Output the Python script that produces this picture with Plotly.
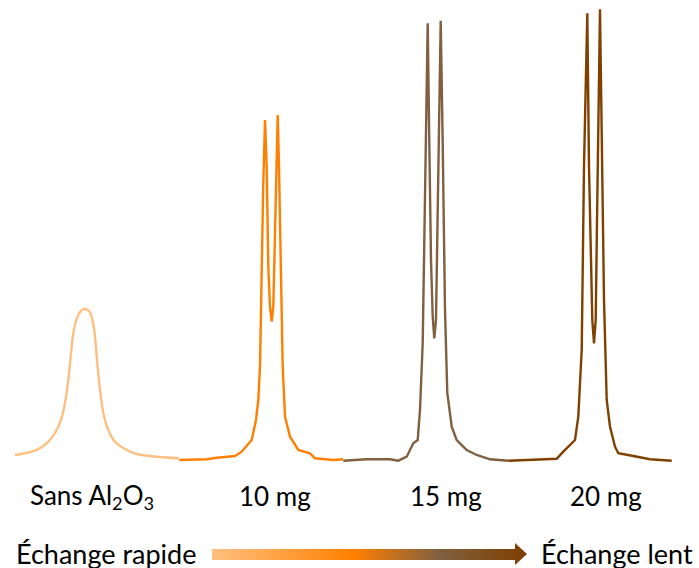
import plotly.graph_objects as go

# ---- data (x = horizontal position, intensity above baseline) ----
sans_x = [15, 25, 31.7, 40, 48.3, 55, 61, 65, 68.3, 70.7, 73.3, 76, 78, 80, 82.5, 85, 87.5, 90, 92, 93.5,
          95, 97.3, 100, 103.3, 108.3, 115, 125, 136.7, 156.7, 179]
sans_y = [5, 6.7, 8.3, 11.7, 18.3, 27, 40, 57, 80, 103.3, 127, 139, 144.5, 148, 150.5, 151, 150.3, 147.5, 142, 135,
          123.3, 97, 70, 47, 30, 18.3, 11, 6, 3.3, 1.7]

mg10_x = [179.3, 206.7, 216.7, 235, 241.7, 251.7, 256, 258.3, 260, 261.7, 263.3, 265, 266.7, 268.3, 270,
          271.7, 273.3, 275, 276.7, 277.7, 279, 280.7, 282.7, 285, 290, 298.3, 310, 315, 333.3, 343.3]
mg10_y = [0, 0.7, 2.3, 4, 8.3, 20, 40, 60, 93.3, 193.3, 277, 340, 293.3, 193.3, 153.3,
          138.3, 153.3, 227, 327, 345, 293.3, 193.3, 93.3, 43.3, 23.3, 10, 6.7, 1.7, 0, 0.7]

mg15_x = [343.3, 366.7, 390, 398.3, 406.7, 413.3, 417.7, 420, 422.7, 425, 427.7, 429.3, 431, 432.7,
          434.3, 436, 438.3, 440.7, 442.7, 445, 447.3, 451.7, 456.7, 466.7, 476.7, 490, 508.3]
mg15_y = [-0.7, 0.7, 0.7, -0.7, 3.3, 16.7, 20, 50, 117, 283.3, 436.7, 316.7, 200, 143.3,
          121.7, 140, 283.3, 439.3, 316.7, 150, 67, 33.3, 20, 10, 5, 0.7, -0.7]

mg20_x = [508.3, 556.7, 563.3, 570, 575, 578.3, 581.7, 584, 587.3, 589, 590.7, 592.3, 594, 595.7,
          597.3, 600, 601.7, 604, 606.7, 610, 615, 618.3, 633.3, 650, 671.7]
mg20_y = [-0.7, 1.3, 8.3, 15, 20, 43.3, 110, 293.3, 446.7, 293.3, 193.3, 140, 116.7, 140,
          260, 450.7, 326.7, 160, 60, 33.3, 13.3, 6.7, 4, 0.7, -0.7]

labels = ["Sans Al<sub>2</sub>O<sub>3</sub>", "10 mg", "15 mg", "20 mg"]
label_x = [91.5, 275, 446, 605.5]
colors = ["#FFBF80", "#FF8000", "#806040", "#804000"]
shapes = ["spline", "linear", "linear", "linear"]

fig = go.Figure()

series = [(sans_x, sans_y), (mg10_x, mg10_y), (mg15_x, mg15_y), (mg20_x, mg20_y)]
for (xs, ys), c, s in zip(series, colors, shapes):
    fig.add_trace(go.Scatter(x=xs, y=ys, mode="lines",
                             line=dict(color=c, width=2.4, shape=s, smoothing=0.8),
                             hoverinfo="skip", showlegend=False))

# gradient arrow
arrow_x = [212, 515, 515, 527, 515, 515, 212, 212]
arrow_y = [-89, -89, -83, -94, -105, -100, -100, -89]
fig.add_trace(go.Scatter(
    x=arrow_x, y=arrow_y, mode="lines", fill="toself",
    line=dict(width=0, color="rgba(0,0,0,0)"),
    fillgradient=dict(type="horizontal",
                      colorscale=[[0, "#FFC080"], [0.45, "#FF8000"], [0.72, "#806040"], [1, "#7F3F00"]]),
    hoverinfo="skip", showlegend=False))

font = dict(family="Lato, Carlito, Calibri, sans-serif", size=26, color="#000000")
for t, x in zip(labels, label_x):
    fig.add_annotation(x=x, y=-36, text=t, showarrow=False, xanchor="center", yanchor="middle", font=font)

font2 = dict(font, size=27)
fig.add_annotation(x=106, y=-93, text="Échange rapide", showarrow=False,
                   xanchor="center", yanchor="middle", font=font2)
fig.add_annotation(x=617, y=-93, text="Échange lent", showarrow=False,
                   xanchor="center", yanchor="middle", font=font2)

fig.update_layout(
    width=699, height=568,
    margin=dict(l=0, r=0, t=0, b=0),
    paper_bgcolor="white", plot_bgcolor="white",
    xaxis=dict(range=[0, 699], visible=False, fixedrange=True),
    yaxis=dict(range=[-108, 460], visible=False, fixedrange=True),
)

fig.write_html("out.html", config={"displayModeBar": False},
               post_script="document.body.style.margin='0';document.body.style.overflow='hidden';")
